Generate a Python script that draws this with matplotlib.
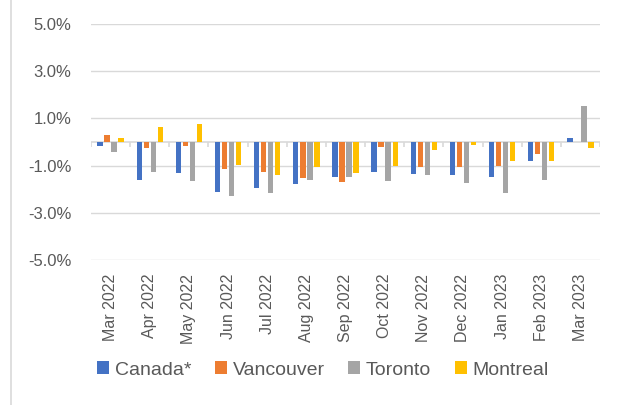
import numpy as np
import matplotlib.pyplot as plt
from matplotlib.lines import Line2D

months = ["Mar 2022", "Apr 2022", "May 2022", "Jun 2022", "Jul 2022", "Aug 2022",
          "Sep 2022", "Oct 2022", "Nov 2022", "Dec 2022", "Jan 2023", "Feb 2023", "Mar 2023"]
canada = [-0.15, -1.60, -1.33, -2.12, -1.96, -1.78, -1.48, -1.26, -1.37, -1.38, -1.47, -0.79, 0.15]
vancouver = [0.30, -0.25, -0.16, -1.16, -1.29, -1.51, -1.70, -0.23, -1.04, -1.08, -1.03, -0.51, 0.0]
toronto = [-0.41, -1.27, -1.64, -2.29, -2.16, -1.62, -1.47, -1.67, -1.40, -1.73, -2.14, -1.59, 1.51]
montreal = [0.15, 0.64, 0.77, -0.96, -1.41, -1.07, -1.33, -1.03, -0.34, -0.12, -0.82, -0.82, -0.27]

series = [("Canada*", canada, "#4472C4"),
          ("Vancouver", vancouver, "#ED7D31"),
          ("Toronto", toronto, "#A5A5A5"),
          ("Montreal", montreal, "#FFC000")]

plt.rcParams['font.family'] = ['Liberation Sans', 'DejaVu Sans']
text_col = "#595959"

fig = plt.figure(figsize=(6.28, 4.05), dpi=100)
ax = fig.add_axes([91 / 628, 1 - 260 / 405, 509 / 628, 236 / 405])

x = np.arange(len(months))
pitch = 0.179
width = 0.136
for i, (name, vals, col) in enumerate(series):
    ax.bar(x + (i - 1.5) * pitch, vals, width, color=col, label=name, zorder=3)

ax.set_xlim(-0.5, len(months) - 0.5)
ax.set_ylim(-5, 5)
yt = [-5, -3, -1, 1, 3, 5]
ax.set_yticks(yt)
ax.set_yticklabels([f"{v:.1f}%" for v in yt], fontsize=12, color=text_col)
ax.grid(axis='y', color="#D9D9D9", linewidth=1, zorder=0)
ax.tick_params(axis='y', length=0, pad=14)

ax.set_xticks(x)
ax.set_xticklabels(months, rotation=90, fontsize=11.5, color=text_col)
ax.tick_params(axis='x', length=0, pad=10)

for s in ax.spines.values():
    s.set_visible(False)

# category axis at zero with boundary tick marks
ax.axhline(0, color="#D9D9D9", linewidth=1.2, zorder=2)
bounds = np.arange(len(months) + 1) - 0.5
ax.vlines(bounds, -0.22, 0, color="#D9D9D9", linewidth=1.2, zorder=2)

handles, labels = ax.get_legend_handles_labels()
fig.legend(handles, labels, loc='center left', bbox_to_anchor=(97 / 628, 1 - 370 / 405),
           ncol=4, frameon=False, fontsize=14, labelcolor=text_col,
           handlelength=0.62, handleheight=0.62, handletextpad=0.3,
           columnspacing=1.2, borderaxespad=0, borderpad=0)

fig.add_artist(Line2D([11 / 628, 11 / 628], [0, 1], color="#D9D9D9", linewidth=1.2))

fig.savefig("out.png", dpi=100)
